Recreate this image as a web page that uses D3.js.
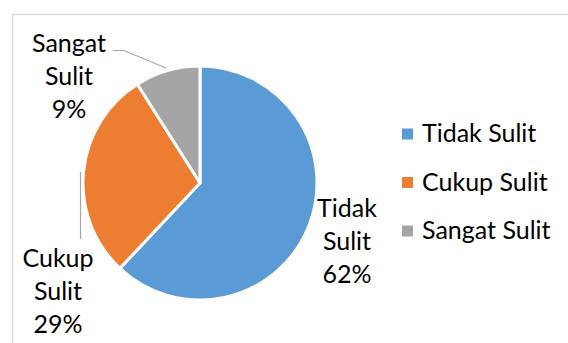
<!DOCTYPE html>
<html>
<head>
<meta charset="utf-8">
<script src="https://cdn.jsdelivr.net/npm/d3@7"></script>
<style>
  body { margin: 0; background: #fff; }
  svg text { font-family: Lato, "Open Sans", sans-serif; fill: #000; }
</style>
</head>
<body>
<script>
// pie of difficulty answers
var categories = ["Tidak Sulit", "Cukup Sulit", "Sangat Sulit"];
var values = [62, 29, 9];
var labelLines = [["Tidak", "Sulit", "62%"], ["Sangat", "Sulit", "9%"], ["Cukup", "Sulit", "29%"]];
var colors = ["#5B9BD5", "#ED7D31", "#A5A5A5"];

var width = 568,
    height = 343;

var svg = d3.select("body")
    .append("svg")
    .attr("width", width)
    .attr("height", height);

// chart frame (runs off the right and bottom edge)
svg.append("rect")
    .attr("x", 12.5)
    .attr("y", 14.5)
    .attr("width", 600)
    .attr("height", 400)
    .attr("fill", "none")
    .attr("stroke", "#d9d9d9")
    .attr("stroke-width", 1.5);

var cx = 200, cy = 183, r = 117;

var color = d3.scaleOrdinal().domain(categories).range(colors);

var pie = d3.pie().sort(null).value(function(d){ return d.value; });
var arc = d3.arc().innerRadius(0).outerRadius(r);

var data = categories.map(function(c, i){ return {name: c, value: values[i]}; });

var g = svg.append("g").attr("transform", "translate(" + cx + "," + cy + ")");

g.selectAll(".slice")
    .data(pie(data))
    .enter()
    .append("path")
    .attr("class", "slice")
    .attr("d", arc)
    .attr("fill", function(d){ return color(d.data.name); })
    .attr("stroke", "#fff")
    .attr("stroke-width", 3)
    .attr("stroke-linejoin", "round");

// data labels: centre x and first baseline
var labelPos = [[347, 217], [69, 52], [58, 267]];
var fs = 25;

labelLines.forEach(function(lines, i){
    var t = svg.append("text")
        .attr("text-anchor", "middle")
        .style("font-size", fs + "px");
    lines.forEach(function(s, j){
        t.append("tspan")
            .attr("x", labelPos[i][0])
            .attr("y", labelPos[i][1] + j * 33)
            .text(s);
    });
});

// leader lines
var line = d3.line();
svg.append("path")
    .attr("d", line([[113, 50.5], [124, 50.5], [166, 68]]))
    .attr("fill", "none")
    .attr("stroke", "#a6a6a6")
    .attr("stroke-width", 1.2);
svg.append("path")
    .attr("d", line([[80.5, 172], [80.5, 239]]))
    .attr("fill", "none")
    .attr("stroke", "#a6a6a6")
    .attr("stroke-width", 1.2);

// legend
var ly = d3.scalePoint().domain(categories).range([134, 231]);

var legend = svg.selectAll(".legend")
    .data(categories)
    .enter()
    .append("g")
    .attr("class", "legend")
    .attr("transform", function(d){ return "translate(402," + ly(d) + ")"; });

legend.append("rect")
    .attr("x", 0)
    .attr("y", -5.5)
    .attr("width", 11)
    .attr("height", 11)
    .attr("fill", function(d){ return color(d); });

legend.append("text")
    .attr("x", 20)
    .attr("y", 8)
    .style("font-size", fs + "px")
    .text(function(d){ return d; });
</script>
</body>
</html>
